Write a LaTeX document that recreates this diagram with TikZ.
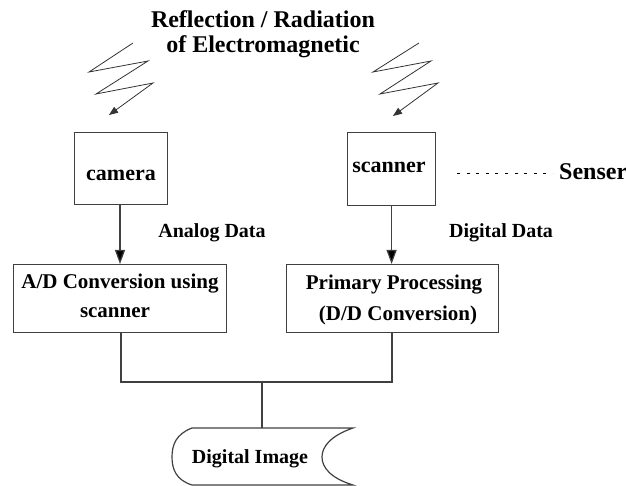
\documentclass[tikz,border=0pt]{standalone}
\usepackage{fontspec}
\setmainfont{Liberation Serif}
\usetikzlibrary{arrows.meta}
\begin{document}
\begin{tikzpicture}[x=1pt,y=-1pt,
  line/.style={draw=black!75,line width=1.2pt},
  unitbox/.style={line,inner sep=0pt,anchor=north west},
  bigtxt/.style={font=\fontsize{21}{26}\selectfont\bfseries,inner sep=0pt,anchor=base},
  sentxt/.style={font=\fontsize{22}{26}\selectfont\bfseries,inner sep=0pt,anchor=base},
  lbltxt/.style={font=\fontsize{20}{24}\selectfont\bfseries,inner sep=0pt,anchor=base},
  ttltxt/.style={font=\fontsize{24}{28}\selectfont\bfseries,inner sep=0pt,anchor=base},
  wave/.style={draw=black!80,line width=0.8pt,-{Triangle[length=9pt,width=7pt]}},
  flow/.style={line,-{Triangle[length=14pt,width=10pt,fill=black]}}]
\useasboundingbox (0,0) rectangle (626,486);

% heading
\node[ttltxt] (t1) at (263,28) {Reflection / Radiation};
\node[ttltxt] (t2) at (263,53) {of Electromagnetic};

% incoming radiation
\coordinate (wl) at (109,115);
\coordinate (wr) at (393,116);
\draw[wave] (133,43) -- (89,72) -- (148,61) -- (96,94) -- (153,83) -- (wl);
\draw[wave] (419,43) -- (373,72) -- (431,61) -- (380,94) -- (438,83) -- (wr);

% sensors
\node[unitbox,minimum width=93,minimum height=72] (cam) at (74,132) {};
\node[sentxt] (camt) at (121,181) {camera};
\node[unitbox,minimum width=88,minimum height=73] (scn) at (347,132) {};
\node[sentxt] (scnt) at (389,173) {scanner};

% sensor marker
\coordinate (sa) at (457,173);
\coordinate (sb) at (553,173);
\draw[black,line width=0.8pt,dash pattern=on 3pt off 6.6pt] (sa) -- (sb);
\node[ttltxt,anchor=base west] (sens) at (559,180) {Senser};

% conversion stages
\node[unitbox,minimum width=213,minimum height=68] (ad) at (13,264) {};
\node[bigtxt] (ad1) at (120,288) {A/D Conversion using};
\node[bigtxt] (ad2) at (115,317) {scanner};
\node[unitbox,minimum width=212,minimum height=68] (pp) at (286,264) {};
\node[bigtxt] (pp1) at (394,289) {Primary Processing};
\node[bigtxt] (pp2) at (398,320) {(D/D Conversion)};

\draw[flow] (cam.south -| 120,0) -- (ad.north -| 120,0);
\draw[flow] (scn.south) -- (scn.south |- pp.north);
\node[lbltxt] (ana) at (212,238) {Analog Data};
\node[lbltxt] (dig) at (501,238) {Digital Data};

% merge into output
\coordinate (jl) at (121,382);
\coordinate (jr) at (392,382);
\coordinate (jm) at (262,382);
\coordinate (st) at (262,428);
\draw[line] (ad.south -| jl) -- (jl) -- (jr) -- (pp.south -| jr);
\draw[line] (jm) -- (st);

% stored data symbol
\draw[line]
  (192,428) -- (353,428)
  .. controls (330,436) and (322,447) .. (322,457)
  .. controls (322,467) and (330,478) .. (353,485)
  -- (192,485)
  .. controls (176,480) and (172,469) .. (172,457)
  .. controls (172,445) and (176,434) .. (192,428) -- cycle;
\node[lbltxt] (img) at (250,463) {Digital Image};
\end{tikzpicture}
\end{document}
